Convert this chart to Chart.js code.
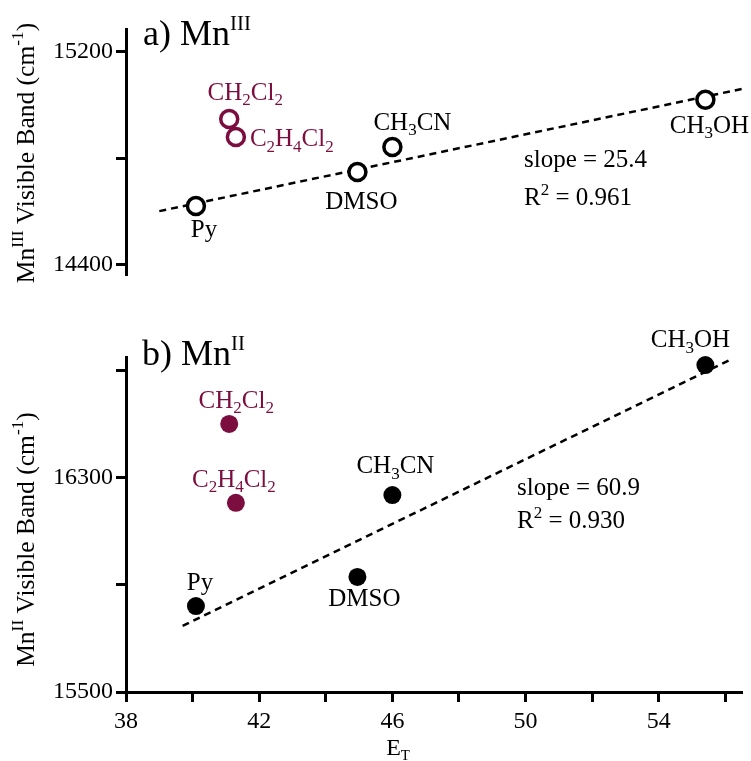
<!DOCTYPE html>
<html>
<head>
<meta charset="utf-8">
<script src="https://cdn.jsdelivr.net/npm/chart.js@4/dist/chart.umd.min.js"></script>
<style>
	body { margin: 0; background: #fff; }
	#wrap { position: relative; width: 751px; height: 761px; }
	canvas { position: absolute; left: 0; }
</style>
</head>
<body>
<div id="wrap">
	<canvas id="mn3" width="751" height="300" style="top:0"></canvas>
	<canvas id="mn2" width="751" height="461" style="top:300px"></canvas>
</div>
<script>
// solvents, E_T values and band maxima
const solventLabels = ['Py', 'CH{_2}Cl{_2}', 'C{_2}H{_4}Cl{_2}', 'DMSO', 'CH{_3}CN', 'CH{_3}OH'];
const chlorinated = [false, true, true, false, false, false];
const etValues = [40.1, 41.1, 41.3, 44.95, 46.0, 55.4];
const mn3Band = [14621, 14948, 14880, 14749, 14843, 15020];
const mn2Band = [15821, 16502, 16207, 15930, 16236, 16722];

// dashed linear fits (end points)
const mn3FitX = [39.0, 56.5];
const mn3FitY = [14602, 15061];
const mn2FitX = [39.7, 56.2];
const mn2FitY = [15747, 16745];
const mn3Stats = ['slope = 25.4', 'R{^2} = 0.961'];
const mn2Stats = ['slope = 60.9', 'R{^2} = 0.930'];

// ticks
const xTicks = [38, 40, 42, 44, 46, 48, 50, 52, 54, 56];
const xTickLabels = ['38', '', '42', '', '46', '', '50', '', '54', ''];
const mn3Ticks = [14400, 14800, 15200];
const mn3TickLabels = ['14400', '', '15200'];
const mn2Ticks = [15500, 15900, 16300, 16700];
const mn2TickLabels = ['15500', '', '16300', ''];

const purple = '#7b0d3f';
const pointColors = chlorinated.map(c => c ? purple : '#000');
const serif = "'Liberation Serif', 'Times New Roman', serif";

Chart.defaults.font.family = serif;
Chart.defaults.color = '#000';

// split "CH{_2}Cl{_2}" into plain / sub / sup pieces
function richParts(str) {
	const parts = [];
	const re = /\{([_^])([^}]*)\}/g;
	let last = 0, m;
	while ((m = re.exec(str)) !== null) {
		if (m.index > last) parts.push({ t: str.slice(last, m.index), mode: '' });
		parts.push({ t: m[2], mode: m[1] });
		last = re.lastIndex;
	}
	if (last < str.length) parts.push({ t: str.slice(last), mode: '' });
	return parts;
}

function drawRich(ctx, str, x, y, size, align, color, ratio) {
	ratio = ratio || 0.68;
	const parts = richParts(str);
	let width = 0;
	parts.forEach(p => {
		p.size = p.mode ? size * ratio : size;
		ctx.font = p.size + 'px ' + serif;
		p.w = ctx.measureText(p.t).width;
		width += p.w;
	});
	let cx = x;
	if (align === 'center') cx = x - width / 2;
	if (align === 'right') cx = x - width;
	ctx.fillStyle = color;
	ctx.textAlign = 'left';
	ctx.textBaseline = 'alphabetic';
	parts.forEach(p => {
		ctx.font = p.size + 'px ' + serif;
		let dy = 0;
		if (p.mode === '_') dy = size * 0.22;
		if (p.mode === '^') dy = -size * 0.42;
		ctx.fillText(p.t, cx, y + dy);
		cx += p.w;
	});
}

const richText = {
	id: 'richText',
	afterDatasetsDraw(chart, args, opts) {
		const ctx = chart.ctx;
		const xs = chart.scales.x, ys = chart.scales.y;
		const area = chart.chartArea;
		ctx.save();
		opts.offsets.forEach((o, i) => {
			const px = xs.getPixelForValue(etValues[i]);
			const py = ys.getPixelForValue(opts.values[i]);
			drawRich(ctx, solventLabels[i], px + o[0], py + o[1], 25, o[2], pointColors[i]);
		});
		opts.stats.forEach((s, i) => {
			drawRich(ctx, s, opts.statsPos[0], opts.statsPos[1] + i * opts.statsPos[2], 25, 'left', '#000');
		});
		drawRich(ctx, opts.title, area.left + opts.titlePos[0], area.top + opts.titlePos[1], 36, 'left', '#000', 0.58);
		ctx.save();
		ctx.translate(27, (area.top + area.bottom) / 2 + opts.yTitleShift);
		ctx.rotate(-Math.PI / 2);
		drawRich(ctx, opts.yTitle, 0, 7, 25.5, 'center', '#000');
		ctx.restore();
		if (opts.xTitle) drawRich(ctx, opts.xTitle, opts.xTitlePos[0], opts.xTitlePos[1], 24, 'center', '#000', 0.62);
		ctx.restore();
	}
};

function yScale(min, max, ticks, labels) {
	return {
		type: 'linear',
		position: 'left',
		min: min,
		max: max,
		afterBuildTicks: s => { s.ticks = ticks.map(v => ({ value: v })); },
		afterFit: s => { s.width = 126; },
		ticks: {
			font: { size: 24 },
			padding: 3,
			callback: v => { const k = ticks.indexOf(v); return k < 0 ? '' : labels[k]; }
		},
		grid: { drawOnChartArea: false, drawTicks: true, tickLength: 10, tickWidth: 3, tickColor: '#000' },
		border: { display: true, width: 3, color: '#000' }
	};
}

function xScale(show) {
	return {
		type: 'linear',
		position: 'bottom',
		display: show,
		min: 38,
		max: 56.5,
		afterBuildTicks: s => { s.ticks = xTicks.map(v => ({ value: v })); },
		afterFit: s => { if (show) s.height = 69; },
		ticks: {
			font: { size: 24 },
			padding: 5,
			maxRotation: 0,
			autoSkip: false,
			callback: v => { const k = xTicks.indexOf(v); return k < 0 ? '' : xTickLabels[k]; }
		},
		grid: { drawOnChartArea: false, drawTicks: true, tickLength: 10, tickWidth: 3, tickColor: '#000' },
		border: { display: true, width: 3, color: '#000' }
	};
}

new Chart(
	document.getElementById('mn3'),
	{
		type: 'scatter',
		data: {
			datasets: [
				{
					data: etValues.map((x, i) => ({ x: x, y: mn3Band[i] })),
					pointRadius: 8.5,
					pointBorderWidth: 3.5,
					pointBorderColor: pointColors,
					pointBackgroundColor: '#fff',
					clip: false
				},
				{
					data: mn3FitX.map((x, i) => ({ x: x, y: mn3FitY[i] })),
					showLine: true,
					borderColor: '#000',
					borderWidth: 2.5,
					borderDash: [7, 5],
					pointRadius: 0,
					clip: false
				}
			]
		},
		options: {
			responsive: false,
			animation: false,
			layout: { autoPadding: false, padding: { left: 0, right: 9, top: 29, bottom: 25 } },
			scales: { x: xScale(false), y: yScale(14362, 15286, mn3Ticks, mn3TickLabels) },
			plugins: {
				legend: { display: false },
				tooltip: { enabled: false },
				richText: {
					values: mn3Band,
					offsets: [[8, 31, 'center'], [16, -19, 'center'], [14, 9, 'left'], [4, 37, 'center'], [20, -17, 'center'], [4, 33, 'center']],
					stats: mn3Stats,
					statsPos: [524, 167, 38],
					title: 'a) Mn{^III}',
					titlePos: [17, 16],
					yTitle: 'Mn{^III} Visible Band (cm{^-1})',
					yTitleShift: 1
				}
			}
		},
		plugins: [richText]
	}
);

new Chart(
	document.getElementById('mn2'),
	{
		type: 'scatter',
		data: {
			datasets: [
				{
					data: etValues.map((x, i) => ({ x: x, y: mn2Band[i] })),
					pointRadius: 9,
					pointBorderWidth: 0,
					pointBorderColor: pointColors,
					pointBackgroundColor: pointColors,
					clip: false
				},
				{
					data: mn2FitX.map((x, i) => ({ x: x, y: mn2FitY[i] })),
					showLine: true,
					borderColor: '#000',
					borderWidth: 2.5,
					borderDash: [7, 5],
					pointRadius: 0,
					clip: false
				}
			]
		},
		options: {
			responsive: false,
			animation: false,
			layout: { autoPadding: false, padding: { left: 0, right: 9, top: 57, bottom: 0 } },
			scales: { x: xScale(true), y: yScale(15500, 16752, mn2Ticks, mn2TickLabels) },
			plugins: {
				legend: { display: false },
				tooltip: { enabled: false },
				richText: {
					values: mn2Band,
					offsets: [[4, -16, 'center'], [7, -16, 'center'], [-2, -16, 'center'], [7, 29, 'center'], [3, -22, 'center'], [-15, -18, 'center']],
					stats: mn2Stats,
					statsPos: [517, 195, 33],
					title: 'b) Mn{^II}',
					titlePos: [16, 8],
					yTitle: 'Mn{^II} Visible Band (cm{^-1})',
					yTitleShift: 15,
					xTitle: 'E{_T}',
					xTitlePos: [398, 455]
				}
			}
		},
		plugins: [richText]
	}
);
</script>
</body>
</html>
